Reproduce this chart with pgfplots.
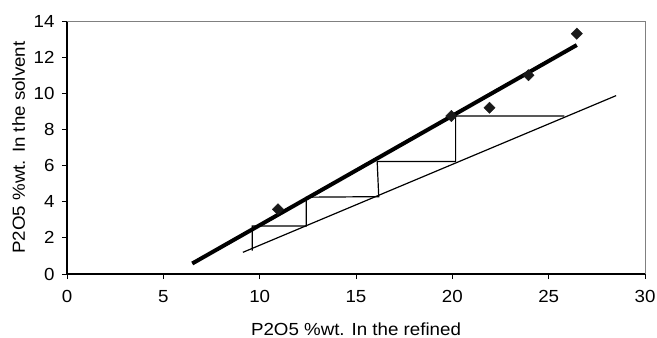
\documentclass[border=0pt]{standalone}
\usepackage{pgfplots}
\pgfplotsset{compat=1.18}
\usepackage{fontspec}
\setmainfont{Liberation Sans}[FakeStretch=1.07]
\begin{document}
\begin{tikzpicture}[font=\fontsize{17.5bp}{20bp}\selectfont]
\begin{axis}[
  at={(0,0)}, anchor=south west,
  width=578bp, height=253bp, scale only axis,
  xmin=0, xmax=30, ymin=0, ymax=14,
  xtick={0,5,...,30}, ytick={0,2,...,14},
  axis lines=left, axis line style={-, black, line width=1.1bp},
  tick align=outside, major tick length=5bp,
  tick style={black, line width=0.9bp},
  /pgf/number format/assume math mode=true,
  xticklabel style={anchor=base, yshift=-23bp},
  yticklabel style={anchor=east, xshift=-4bp},
  xlabel={P2O5 \%wt. In the refined},
  ylabel={P2O5 \%wt. In the solvent},
  xlabel style={at={(axis description cs:0.5,-0.2411)}, anchor=base},
  ylabel style={at={(axis description cs:-0.0727,0.5)}, anchor=base},
  clip=false,
]
\draw[gray, line width=0.9bp] (rel axis cs:0,1) -- (rel axis cs:1,1) -- (rel axis cs:1,0);
% thin operating line
\addplot[black, line width=1.2bp] coordinates {(9.13,1.2) (28.5,9.87)};
% staircase
\addplot[black, line width=1.2bp] coordinates {
 (9.62,1.3) (9.62,2.66) (12.42,2.66) (12.42,4.25) (16.18,4.28)
 (16.1,6.22) (20.17,6.22) (20.17,8.74) (25.82,8.74)};
% thick equilibrium line
\addplot[black, line width=4bp] coordinates {(6.5,0.58) (26.46,12.67)};
% data points
\addplot[only marks, mark=square*, mark size=4bp, mark options={rotate=45, fill=black!90, draw=black!90}]
 coordinates {(10.95,3.58) (19.95,8.74) (21.93,9.2) (23.95,11.0) (26.46,13.3)};
\end{axis}
\pgfresetboundingbox
\path (-67bp,-64bp) rectangle (590bp,274bp);
\end{tikzpicture}
\end{document}
